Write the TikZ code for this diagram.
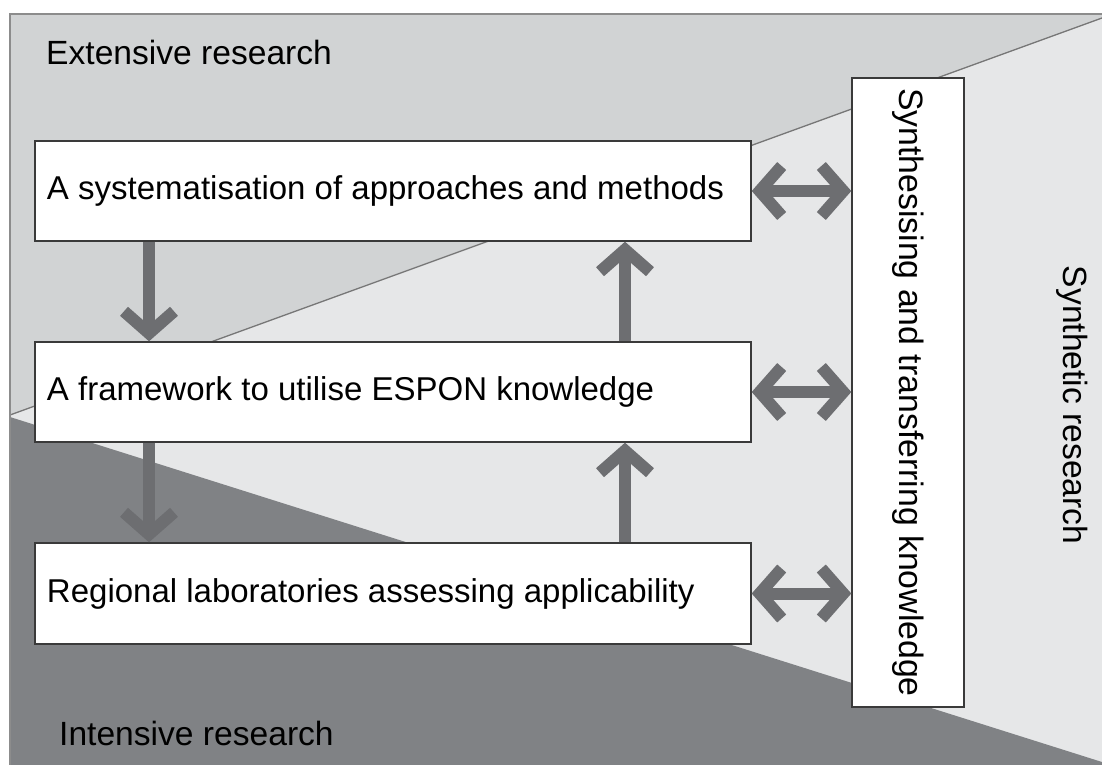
\documentclass[tikz,border=0pt]{standalone}
\usepackage{fontspec}
\setmainfont{Liberation Sans}
\usetikzlibrary{arrows.meta}

\definecolor{zonetop}{HTML}{D1D3D4}
\definecolor{zonemid}{HTML}{E6E7E8}
\definecolor{zonelow}{HTML}{808285}
\definecolor{arrowc}{HTML}{6D6E71}
\definecolor{framec}{HTML}{8C8C8C}
\definecolor{boxc}{HTML}{3A3A3A}

\tikzset{
  stagebox/.style={draw=boxc, line width=1.4bp, fill=white, minimum width=716bp,
    minimum height=100bp, inner xsep=12bp, text width=692bp, align=flush left,
    font=\fontsize{33bp}{38bp}\selectfont},
  synthbox/.style={draw=boxc, line width=1.4bp, fill=white, rotate=-90,
    minimum width=629bp, minimum height=112bp, inner sep=0pt,
    font=\fontsize{33.8bp}{38bp}\selectfont},
  zonelabel/.style={inner sep=0pt, font=\fontsize{33.6bp}{38bp}\selectfont},
  bigarrow/.style={draw=arrowc, line width=12bp,
    -{Straight Barb[length=22bp,width=50bp]}},
  botharrow/.style={draw=arrowc, line width=12bp,
    {Straight Barb[length=22bp,width=50bp]}-{Straight Barb[length=22bp,width=50bp]}},
}

\begin{document}
\begin{tikzpicture}[x=1bp, y=-1bp]
\useasboundingbox (0,0) rectangle (1102,765);

% research zones
\fill[zonemid] (10,14) rectangle (1102,765);
\fill[zonetop] (10,14) -- (1102,14) -- (1102,18) -- (10,415) -- cycle;
\fill[zonelow] (10,417) -- (1102,762) -- (1102,765) -- (10,765) -- cycle;
\draw[framec!85!black, line width=1.3bp] (10,415) -- (1102,18);
\draw[framec, line width=2bp] (10,765) -- (10,14) -- (1102,14);

% zone labels
\node[zonelabel, anchor=base west] (ext) at (46,65) {Extensive research};
\node[zonelabel, anchor=base west] (int) at (59,745) {Intensive research};
\node[zonelabel, rotate=-90] (syn) at (1072,405) {Synthetic research};

% stages
\node[stagebox] (b1) at (393,191) {A systematisation of approaches and methods};
\node[stagebox] (b2) at (393,392) {A framework to utilise ESPON knowledge};
\node[stagebox, minimum height=101bp] (b3) at (393,593.5) {Regional laboratories assessing applicability};
% rotated clockwise: its south side faces the stages
\node[synthbox] (sb) at (908,392.5) {Synthesising and transferring knowledge};

% connectors
\coordinate (downx) at (149,0);
\coordinate (upx) at (625,0);
\draw[bigarrow] (b1.south -| downx) -- (b2.north -| downx);
\draw[bigarrow] (b2.south -| downx) -- (b3.north -| downx);
\draw[bigarrow] (b2.north -| upx) -- (b1.south -| upx);
\draw[bigarrow] (b3.north -| upx) -- (b2.south -| upx);
\draw[botharrow] (b1.east) -- (b1.east -| sb.south);
\draw[botharrow] (b2.east) -- (b2.east -| sb.south);
\draw[botharrow] (b3.east) -- (b3.east -| sb.south);
\end{tikzpicture}
\end{document}
